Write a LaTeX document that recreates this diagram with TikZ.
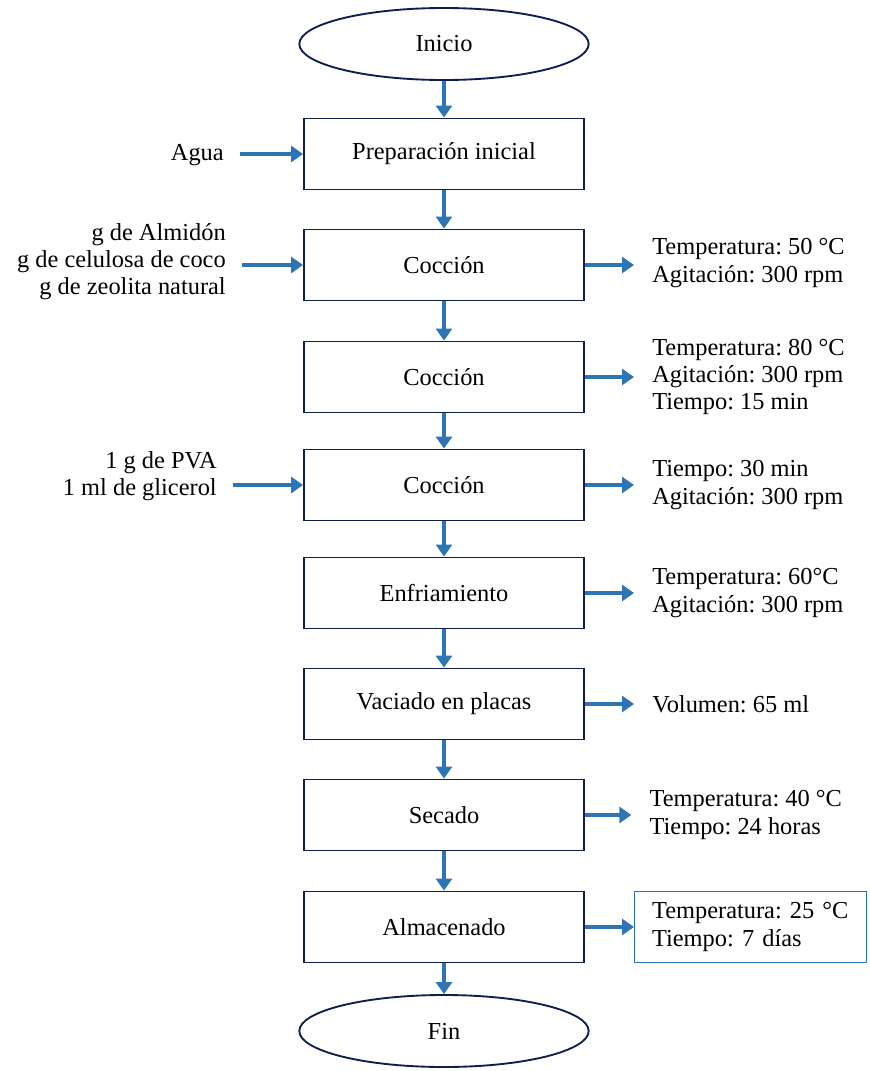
\documentclass[tikz,border=0pt]{standalone}
\usepackage{fontspec}
\setmainfont{Liberation Serif}
\usepackage{xcolor}
\usepackage{tikz}
\usetikzlibrary{arrows.meta, positioning, calc, shapes.geometric}

\definecolor{navy}{HTML}{0F1E50}
\definecolor{flowblue}{HTML}{2E75B6}
\frenchspacing

\begin{document}
\begin{tikzpicture}[x=0.75pt, y=-0.75pt,
    every node/.style={font=\fontsize{18.3}{20.3}\selectfont\frenchspacing},
    stepbox/.style={draw=navy, line width=1.4pt, fill=white, minimum width=210pt, minimum height=53.25pt, inner sep=0pt},
    terminal/.style={ellipse, draw=navy, line width=1.4pt, fill=white, minimum width=217pt, minimum height=54pt, inner sep=0pt},
    intext/.style={anchor=east, align=right, inner xsep=12pt, inner ysep=0pt},
    outtext/.style={anchor=west, align=left, inner xsep=13.5pt, inner ysep=0pt},
    flow/.style={-{Triangle[width=12pt,length=9pt]}, line width=3.4pt, flowblue}]
    \useasboundingbox (0,0) rectangle (870,1071);

    % Main steps
    \node[terminal] (inicio) at (444,44) {Inicio};
    \node[stepbox] (prep) at (444,154) {Preparación inicial};
    \node[stepbox] (coc1) at (444,265) {Cocción};
    \node[stepbox] (coc2) at (444,377) {Cocción};
    \node[stepbox] (coc3) at (444,485) {Cocción};
    \node[stepbox] (enfr) at (444,593) {Enfriamiento};
    \node[stepbox] (vaciado) at (444,704) {Vaciado en placas};
    \node[stepbox] (secado) at (444,815) {Secado};
    \node[stepbox] (almac) at (444,927) {Almacenado};
    \node[terminal] (fin) at (444,1031) {Fin};

    % Flow down
    \foreach \a/\b in {inicio/prep, prep/coc1, coc1/coc2, coc2/coc3, coc3/enfr, enfr/vaciado, vaciado/secado, secado/almac, almac/fin}
        \draw[flow] (\a) -- (\b);

    % Inputs
    \node[intext] (agua) at (240,155) {Agua};
    \node[intext] (almidon) at (242,262) {g de Almidón\\g de celulosa de coco\\g de zeolita natural};
    \node[intext] (pva) at (233,476) {1 g de PVA\\1 ml de glicerol};
    \draw[flow] (agua.east |- prep.west) -- (prep.west);
    \draw[flow] (almidon.east |- coc1.west) -- (coc1.west);
    \draw[flow] (pva.east |- coc3.west) -- (coc3.west);

    % Conditions
    \node[outtext] (cond1) at (634,263) {Temperatura: 50 °C\\Agitación: 300 rpm};
    \node[outtext] (cond2) at (634,377) {Temperatura: 80 °C\\Agitación: 300 rpm\\Tiempo: 15 min};
    \node[outtext] (cond3) at (634,485) {Tiempo: 30 min\\Agitación: 300 rpm};
    \node[outtext] (cond4) at (634,593) {Temperatura: 60°C\\Agitación: 300 rpm};
    \node[outtext] (cond5) at (634,704) {Volumen: 65 ml};
    \node[outtext, xshift=-2pt] (cond6) at (634,815) {Temperatura: 40 °C\\Tiempo: 24 horas};
    \node[outtext, draw=flowblue, line width=1.1pt, inner xsep=13pt, text width=148pt, minimum height=53.25pt] (cond7) at (634,927) {Temperatura: 25 °C\\Tiempo: 7 días};
    \foreach \s/\c in {coc1/cond1, coc2/cond2, coc3/cond3, enfr/cond4, vaciado/cond5, secado/cond6, almac/cond7}
        \draw[flow] (\s.east) -- (\s.east -| \c.west);

\end{tikzpicture}
\end{document}
